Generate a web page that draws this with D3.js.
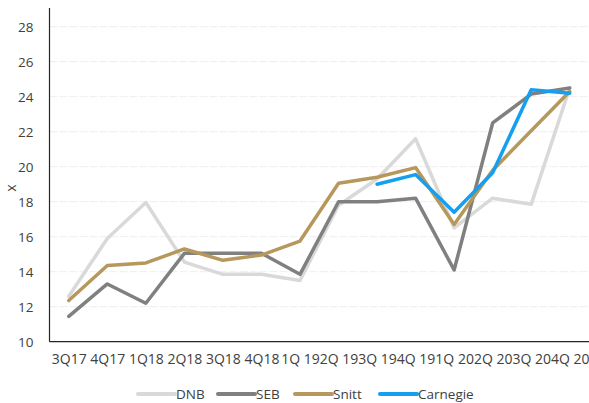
<!DOCTYPE html>
<html>
<head>
<meta charset="utf-8">
<script src="https://cdn.jsdelivr.net/npm/d3@7"></script>
<style>
  html, body { margin: 0; padding: 0; background: #fff; }
  svg { display: block; }
  text { font-family: "Open Sans", "Noto Sans", sans-serif; fill: #404040; }
</style>
</head>
<body>
<svg id="chart" width="589" height="403"></svg>
<script>
// Quarter labels along the x axis
const quarters = ["3Q17", "4Q17", "1Q18", "2Q18", "3Q18", "4Q18",
  "1Q 19", "2Q 19", "3Q 19", "4Q 19", "1Q 20", "2Q 20", "3Q 20", "4Q 20"];

// Multiple (x) per quarter for each source
const dnb      = [12.6, 15.9, 17.95, 14.55, 13.85, 13.85, 13.5, 17.8, 19.3, 21.6, 16.5, 18.2, 17.85, 24.5];
const seb      = [11.45, 13.3, 12.2, 15.05, 15.05, 15.05, 13.85, 18.0, 18.0, 18.2, 14.1, 22.5, 24.15, 24.5];
const snitt    = [12.35, 14.35, 14.5, 15.3, 14.65, 14.95, 15.75, 19.05, 19.4, 19.95, 16.7, 19.8, 22.05, 24.3];
const carnegie = [null, null, null, null, null, null, null, null, 19.0, 19.55, 17.4, 19.65, 24.4, 24.2];

const yTicks = [10, 12, 14, 16, 18, 20, 22, 24, 26, 28];

const series = [
  { name: "DNB",      values: dnb,      color: "#d9d9d9" },
  { name: "SEB",      values: seb,      color: "#808080" },
  { name: "Snitt",    values: snitt,    color: "#b6985c" },
  { name: "Carnegie", values: carnegie, color: "#149ff0" }
];

const svg = d3.select("#chart");
const plotLeft = 49.5, plotRight = 589, plotTop = 26.7, plotBottom = 341.7;

const x = d3.scalePoint().domain(quarters).range([plotLeft, plotRight]).padding(0.5);
const y = d3.scaleLinear().domain([10, 28]).range([plotBottom, plotTop]);

// Horizontal gridlines
svg.append("g")
  .selectAll("line")
  .data(yTicks.filter(t => t > 10))
  .join("line")
  .attr("x1", plotLeft).attr("x2", plotRight)
  .attr("y1", d => y(d)).attr("y2", d => y(d))
  .attr("stroke", "#eeeeee")
  .attr("stroke-width", 1)
  .attr("stroke-dasharray", "8,2");

// Y axis tick labels
const yAxis = d3.axisLeft(y).tickValues(yTicks).tickSize(0).tickPadding(16);
const gy = svg.append("g").attr("transform", `translate(${plotLeft},0)`).call(yAxis);
gy.select(".domain").remove();
gy.selectAll("text").style("font-size", "13.5px").attr("fill", "#333333")
  .style("font-family", "'Open Sans', sans-serif");

// X axis tick labels
const xAxis = d3.axisBottom(x).tickSize(0).tickPadding(12);
const gx = svg.append("g").attr("transform", `translate(0,${plotBottom})`).call(xAxis);
gx.select(".domain").remove();
gx.selectAll("text").style("font-size", "14px").attr("fill", "#333333")
  .style("font-family", "'Open Sans', sans-serif");

// Axis lines
svg.append("line").attr("x1", plotLeft).attr("x2", plotLeft).attr("y1", 8).attr("y2", plotBottom)
  .attr("stroke", "#262626").attr("stroke-width", 1.2);
svg.append("line").attr("x1", plotLeft).attr("x2", plotRight).attr("y1", plotBottom).attr("y2", plotBottom)
  .attr("stroke", "#262626").attr("stroke-width", 1.2);

// Y axis title
svg.append("text")
  .attr("transform", `translate(16,${(plotTop + plotBottom) / 2 + 4}) rotate(-90)`)
  .attr("text-anchor", "middle")
  .style("font-size", "14px")
  .attr("fill", "#333333")
  .text("x");

// Series lines
const line = d3.line()
  .defined(d => d != null)
  .x((d, i) => x(quarters[i]))
  .y(d => y(d));

svg.append("g")
  .selectAll("path")
  .data(series)
  .join("path")
  .attr("d", s => line(s.values))
  .attr("fill", "none")
  .attr("stroke", s => s.color)
  .attr("stroke-width", 3.5)
  .attr("stroke-linejoin", "round")
  .attr("stroke-linecap", "round");

// Legend
const legendX = [138, 218, 295, 380];
const legendY = 394;
const lg = svg.append("g")
  .selectAll("g")
  .data(series)
  .join("g")
  .attr("transform", (s, i) => `translate(${legendX[i]},${legendY})`);
lg.append("line")
  .attr("x1", 0).attr("x2", 37).attr("y1", 0).attr("y2", 0)
  .attr("stroke", s => s.color)
  .attr("stroke-width", 4)
  .attr("stroke-linecap", "round");
lg.append("text")
  .attr("x", 38).attr("y", 4.5)
  .style("font-size", "13.5px")
  .attr("fill", "#333333")
  .text(s => s.name);
</script>
</body>
</html>
